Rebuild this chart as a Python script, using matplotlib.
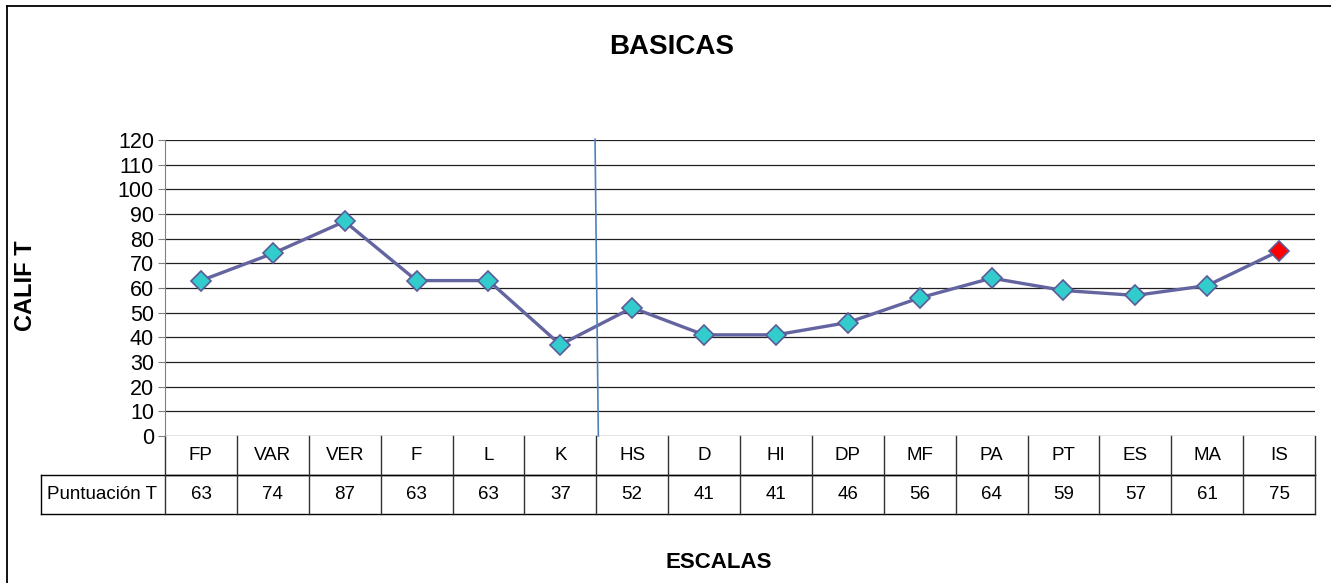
import numpy as np
import matplotlib
matplotlib.use('Agg')
import matplotlib.pyplot as plt
from matplotlib.lines import Line2D

plt.rcParams['font.family'] = ['Liberation Sans', 'DejaVu Sans']

# escalas basicas y puntuacion T
escalas = ['FP', 'VAR', 'VER', 'F', 'L', 'K', 'HS', 'D', 'HI', 'DP', 'MF', 'PA', 'PT', 'ES', 'MA', 'IS']
puntT = [63, 74, 87, 63, 63, 37, 52, 41, 41, 46, 56, 64, 59, 57, 61, 75]
fila_label = 'Puntuación T'
yticks = np.arange(0, 121, 10)

W, H = 1331, 583
fig = plt.figure(figsize=(W/100, H/100), dpi=100)
ax = fig.add_axes([165/W, 1-436/H, 1150/W, 296/H])

x = np.arange(len(escalas))

# lineas de la cuadricula
for yv in yticks:
    ax.axhline(yv, color='#202020', lw=0.9, zorder=1)

ax.plot(x, puntT, '-', color='#6464A0', lw=2.4, zorder=3)
colores = ['#33CCCC']*(len(puntT)-1) + ['#FF0000']
for xi, yi, c in zip(x, puntT, colores):
    ax.plot(xi, yi, 'D', ms=10.5, mfc=c, mec='#5A5A98', mew=1.2, zorder=4)

# linea divisoria entre validez y clinicas
ax.plot([5.483, 5.529], [120.3, 0], color='#4F81BD', lw=1.2, zorder=5, clip_on=False)

ax.set_xlim(-0.5, len(escalas)-0.5)
ax.set_ylim(0, 120)
ax.set_yticks(yticks)
ax.tick_params(axis='y', labelsize=15.5, length=5, color='#808080', direction='out', pad=3)
ax.set_xticks([])
for s in ['top', 'right', 'bottom']:
    ax.spines[s].set_visible(False)
ax.spines['left'].set_color('#808080')

# tabla de datos
tr = ax.get_xaxis_transform()
h1, h2 = -39/296, -78/296
xl = -0.5 - 124/71.875
kw = dict(transform=tr, clip_on=False, color='k', lw=1.0)
ax.plot([-0.5, 15.5], [h1, h1], **kw)
ax.plot([xl, 15.5], [h1, h1], **kw)
ax.plot([xl, 15.5], [h2, h2], **kw)
ax.plot([xl, xl], [h1, h2], **kw)
for b in np.arange(len(escalas)+1) - 0.5:
    ax.plot([b, b], [0, h2], transform=tr, clip_on=False, color='#303030', lw=1.0)
for xi, cat, v in zip(x, escalas, puntT):
    ax.text(xi, h1/2, cat, transform=tr, ha='center', va='center', fontsize=13.5)
    ax.text(xi, (h1+h2)/2, str(v), transform=tr, ha='center', va='center', fontsize=13.5)
ax.text(xl + 6/71.875, (h1+h2)/2, fila_label, transform=tr, ha='left', va='center', fontsize=13.5)

# titulos
fig.text(672/W, 1-47/H, 'BASICAS', ha='center', va='center', fontsize=20, fontweight='bold')
fig.text(26/W, 1-286/H, 'CALIF T', ha='center', va='center', fontsize=17, fontweight='bold', rotation=90)
fig.text(719/W, 1-562/H, 'ESCALAS', ha='center', va='center', fontsize=16, fontweight='bold')

# borde del grafico
fig.add_artist(Line2D([7/W, 7/W], [0, 1-6/H], color='k', lw=1.3))
fig.add_artist(Line2D([7/W, 1], [1-6/H, 1-6/H], color='k', lw=1.3))

fig.savefig('out.png', dpi=100)
